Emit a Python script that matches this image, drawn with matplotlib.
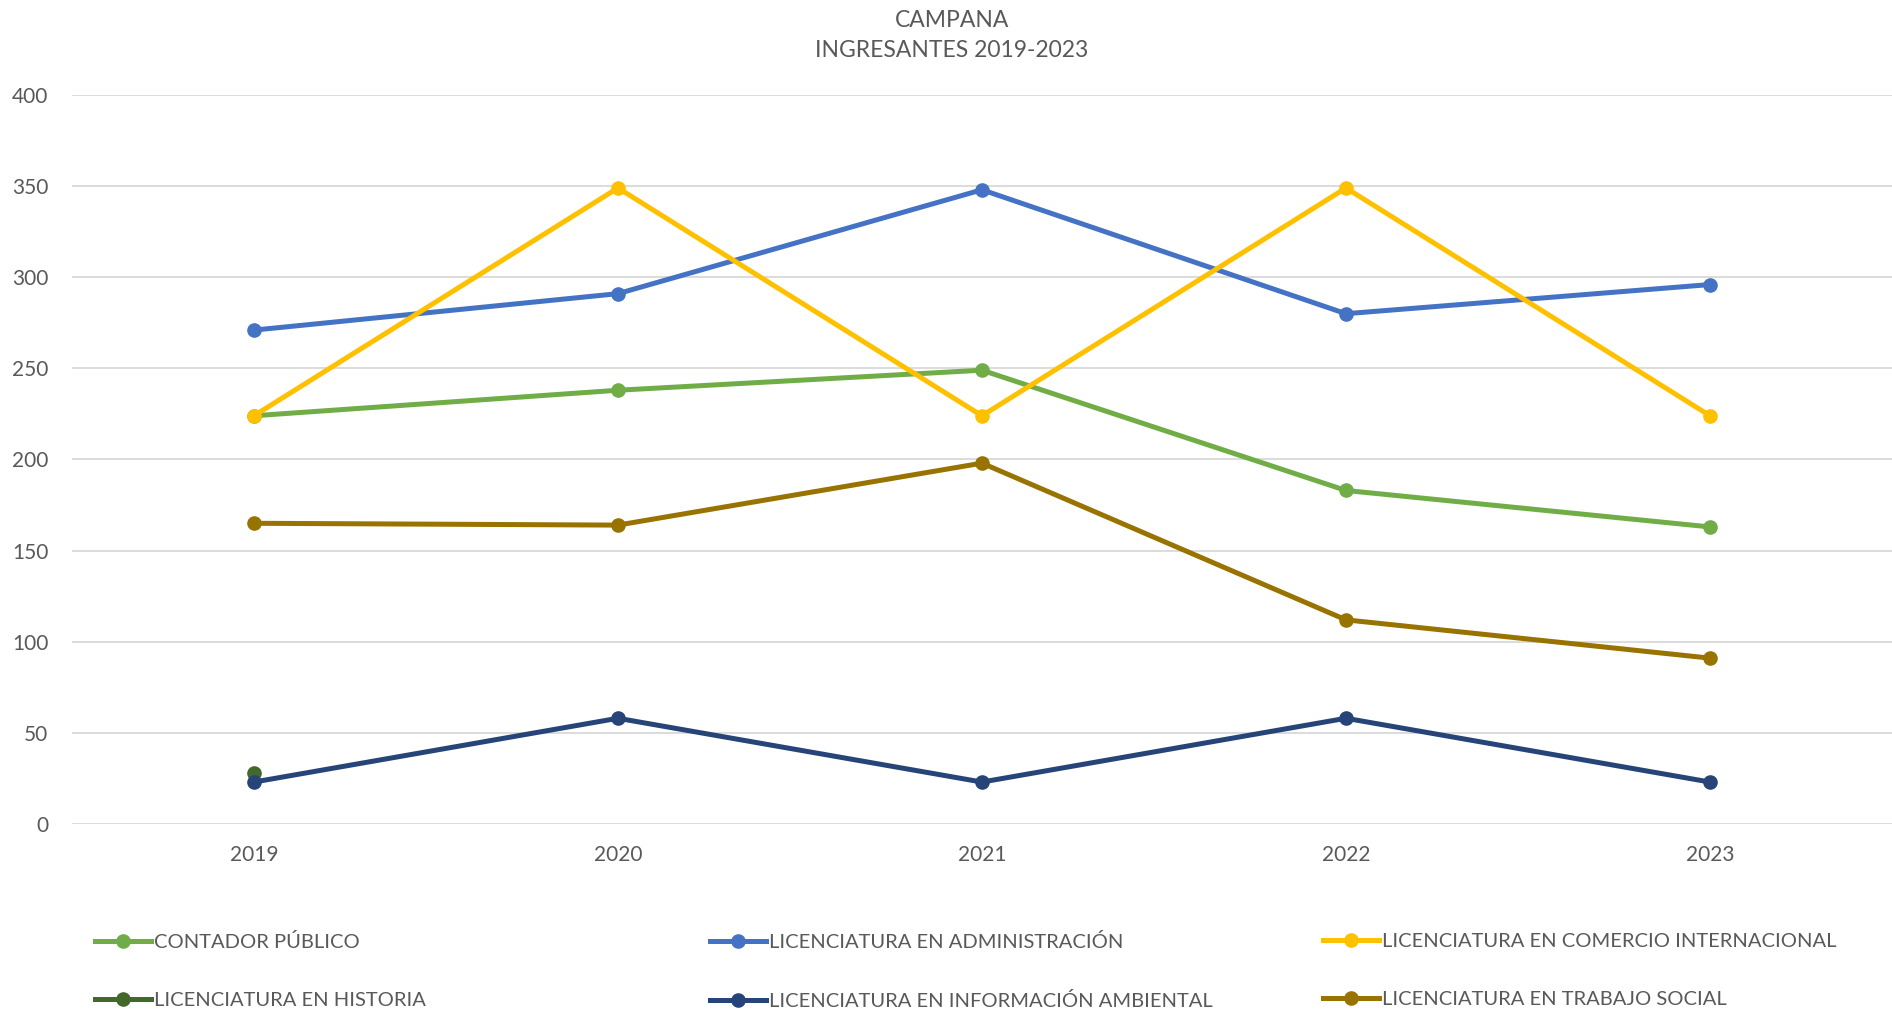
import matplotlib.pyplot as plt
import numpy as np

plt.rcParams['font.family'] = ['Lato', 'DejaVu Sans']

YEARS = ['2019', '2020', '2021', '2022', '2023']

CONTADOR = [224, 238, 249, 183, 163]
ADMINISTRACION = [271, 291, 348, 280, 296]
COMERCIO = [224, 349, 224, 349, 224]
HISTORIA = [28, np.nan, np.nan, np.nan, np.nan]
INFO_AMBIENTAL = [23, 58, 23, 58, 23]
TRABAJO_SOCIAL = [165, 164, 198, 112, 91]

SERIES = [
    ('CONTADOR PÚBLICO', CONTADOR, '#70AD47'),
    ('LICENCIATURA EN ADMINISTRACIÓN', ADMINISTRACION, '#4472C4'),
    ('LICENCIATURA EN COMERCIO INTERNACIONAL', COMERCIO, '#FFC000'),
    ('LICENCIATURA EN HISTORIA', HISTORIA, '#43682B'),
    ('LICENCIATURA EN INFORMACIÓN AMBIENTAL', INFO_AMBIENTAL, '#264478'),
    ('LICENCIATURA EN TRABAJO SOCIAL', TRABAJO_SOCIAL, '#997300'),
]

TEXT_COLOR = '#595959'
GRID_COLOR = '#D9D9D9'

fig = plt.figure(figsize=(18.92, 10.14), dpi=100)
ax = fig.add_axes([0.038, 0.1874, 0.962, 0.7189])

x = np.arange(len(YEARS))
handles = []
for name, values, color in SERIES:
    line, = ax.plot(x, values, color=color, linewidth=3.6, marker='o',
                    markersize=9.5, label=name, zorder=3)
    handles.append(line)

ax.set_xlim(-0.5, len(YEARS) - 0.5)
ax.set_ylim(0, 400)
ax.set_yticks(range(0, 401, 50))
ax.set_xticks(x)
ax.set_xticklabels(YEARS)
ax.grid(axis='y', color=GRID_COLOR, linewidth=1.3, zorder=0)
for spine in ax.spines.values():
    spine.set_visible(False)
ax.tick_params(axis='both', length=0, labelsize=15, labelcolor=TEXT_COLOR)
ax.tick_params(axis='y', pad=17)
ax.tick_params(axis='x', pad=15)

fig.text(0.503, 0.990, 'CAMPANA\nINGRESANTES 2019-2023', ha='center', va='top',
         fontsize=16.5, color=TEXT_COLOR, linespacing=1.5)

# leyenda en tres columnas de ancho fijo, como en Excel
col_x = [0.050, 0.375, 0.699]
for i, cx in enumerate(col_x):
    col_handles = [handles[i], handles[i + 3]]
    leg = fig.legend(handles=col_handles, loc='upper left',
                     bbox_to_anchor=(cx, 0.080), frameon=False,
                     fontsize=14.5, handlelength=2.8, handletextpad=0.15,
                     labelspacing=2.05, borderaxespad=0, borderpad=0)
    for text in leg.get_texts():
        text.set_color(TEXT_COLOR)

fig.savefig('out.png', dpi=100)
